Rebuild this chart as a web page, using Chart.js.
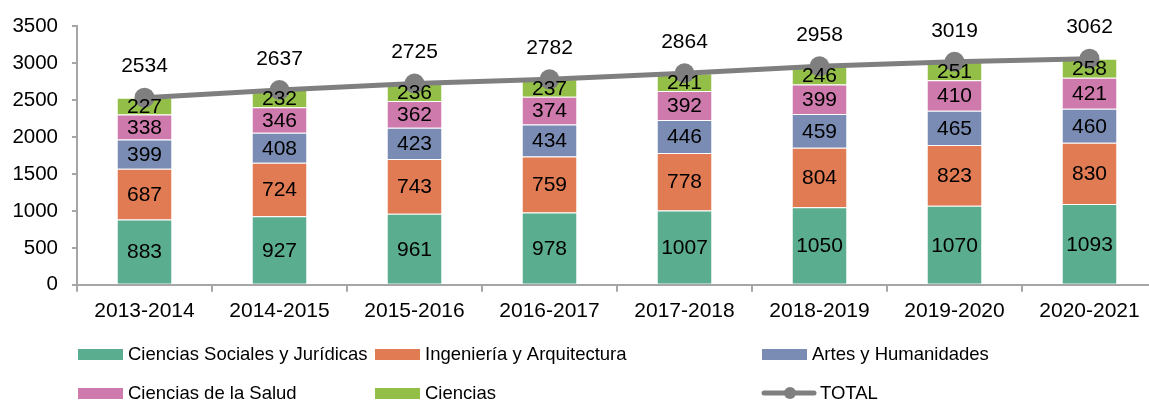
<!DOCTYPE html>
<html>
<head>
<meta charset="utf-8">
<script src="https://cdn.jsdelivr.net/npm/chart.js@4/dist/chart.umd.min.js"></script>
<style>
  html, body { margin: 0; padding: 0; background: #fff; overflow: hidden; }
  #wrap { width: 1149px; height: 403px; position: relative; overflow: hidden; }
  #chart { position: absolute; left: 0; top: 0; }
</style>
</head>
<body>
<div id="wrap"><canvas id="chart" width="1167" height="403"></canvas></div>
<script>
var years = ['2013-2014', '2014-2015', '2015-2016', '2016-2017', '2017-2018', '2018-2019', '2019-2020', '2020-2021'];

var sociales = [883, 927, 961, 978, 1007, 1050, 1070, 1093];
var ingenieria = [687, 724, 743, 759, 778, 804, 823, 830];
var artes = [399, 408, 423, 434, 446, 459, 465, 460];
var salud = [338, 346, 362, 374, 392, 399, 410, 421];
var ciencias = [227, 232, 236, 237, 241, 246, 251, 258];
var total = [2534, 2637, 2725, 2782, 2864, 2958, 3019, 3062];

var yTicks = [0, 500, 1000, 1500, 2000, 2500, 3000, 3500];

Chart.defaults.font.family = '"Liberation Sans", Arial, sans-serif';
Chart.defaults.font.size = 21;
Chart.defaults.color = '#000';

function barSet(label, values, color) {
  return {
    type: 'bar',
    label: label,
    data: values,
    backgroundColor: color,
    borderColor: 'rgba(255,255,255,0.5)',
    borderWidth: { top: 1 },
    stack: 'areas',
    barPercentage: 0.8,
    categoryPercentage: 0.5,
    order: 2
  };
}

// numbers inside bars and above the total line
var labelPlugin = {
  id: 'labels',
  afterDatasetsDraw: function(chart) {
    var ctx = chart.ctx;
    ctx.save();
    ctx.font = '21px "Liberation Sans", Arial, sans-serif';
    ctx.fillStyle = '#000';
    ctx.textAlign = 'center';
    ctx.textBaseline = 'middle';
    chart.data.datasets.forEach(function(ds, i) {
      var meta = chart.getDatasetMeta(i);
      meta.data.forEach(function(el, j) {
        if (ds.type === 'bar') {
          ctx.fillText(ds.data[j], el.x, (el.y + el.base) / 2 + 1);
        } else {
          ctx.fillText(ds.data[j], el.x, el.y - 31);
        }
      });
    });
    ctx.restore();
  }
};

// legend in three columns, like the original
var legendPlugin = {
  id: 'gridLegend',
  afterDraw: function(chart) {
    var ctx = chart.ctx;
    var cols = [78, 375, 762];
    var rows = [354, 393];
    ctx.save();
    ctx.font = '18.5px "Liberation Sans", Arial, sans-serif';
    ctx.textBaseline = 'middle';
    ctx.textAlign = 'left';
    chart.data.datasets.forEach(function(ds, i) {
      var x = cols[i % 3];
      var y = rows[Math.floor(i / 3)];
      if (ds.type === 'line') {
        ctx.strokeStyle = ds.borderColor;
        ctx.lineWidth = 5;
        ctx.lineCap = 'round';
        ctx.beginPath();
        ctx.moveTo(x + 2, y);
        ctx.lineTo(x + 52, y);
        ctx.stroke();
        ctx.fillStyle = ds.borderColor;
        ctx.beginPath();
        ctx.arc(x + 28, y, 6, 0, Math.PI * 2);
        ctx.fill();
        ctx.fillStyle = '#000';
        ctx.fillText(ds.label, x + 58, y + 1);
      } else {
        ctx.fillStyle = ds.backgroundColor;
        ctx.fillRect(x, y - 5, 45, 11);
        ctx.fillStyle = '#000';
        ctx.fillText(ds.label, x + 50, y + 1);
      }
    });
    ctx.restore();
  }
};

new Chart(document.getElementById('chart').getContext('2d'), {
  data: {
    labels: years,
    datasets: [
      barSet('Ciencias Sociales y Jurídicas', sociales, '#5BAD90'),
      barSet('Ingeniería y Arquitectura', ingenieria, '#E07B54'),
      barSet('Artes y Humanidades', artes, '#7A8CB4'),
      barSet('Ciencias de la Salud', salud, '#CF7AAC'),
      barSet('Ciencias', ciencias, '#93BF48'),
      {
        type: 'line',
        label: 'TOTAL',
        data: total,
        borderColor: '#7F7F7F',
        backgroundColor: '#7F7F7F',
        borderWidth: 5,
        pointRadius: 10,
        pointHoverRadius: 10,
        pointBackgroundColor: '#7F7F7F',
        pointBorderWidth: 0,
        stack: 'total',
        tension: 0,
        order: 0
      }
    ]
  },
  options: {
    responsive: false,
    animation: false,
    layout: { padding: { top: 22, right: 3, bottom: 72, left: 0 } },
    scales: {
      x: {
        stacked: true,
        offset: true,
        grid: { display: true, drawOnChartArea: false, offset: true, tickLength: 7, color: '#A6A6A6', lineWidth: 2 },
        border: { color: '#A6A6A6', width: 2 },
        ticks: { padding: 7, maxRotation: 0, font: { size: 21 } }
      },
      y: {
        stacked: true,
        min: 0,
        max: 3500,
        afterBuildTicks: function(axis) {
          axis.ticks = yTicks.map(function(v) { return { value: v }; });
        },
        afterFit: function(axis) { axis.width = 77; },
        grid: { display: true, drawOnChartArea: false, tickLength: 5, color: '#A6A6A6', lineWidth: 2 },
        border: { color: '#A6A6A6', width: 2 },
        ticks: {
          padding: 14,
          font: { size: 20.5 },
          callback: function(v) { return String(v); }
        }
      }
    },
    plugins: {
      legend: { display: false },
      tooltip: { enabled: false }
    }
  },
  plugins: [labelPlugin, legendPlugin]
});
</script>
</body>
</html>
